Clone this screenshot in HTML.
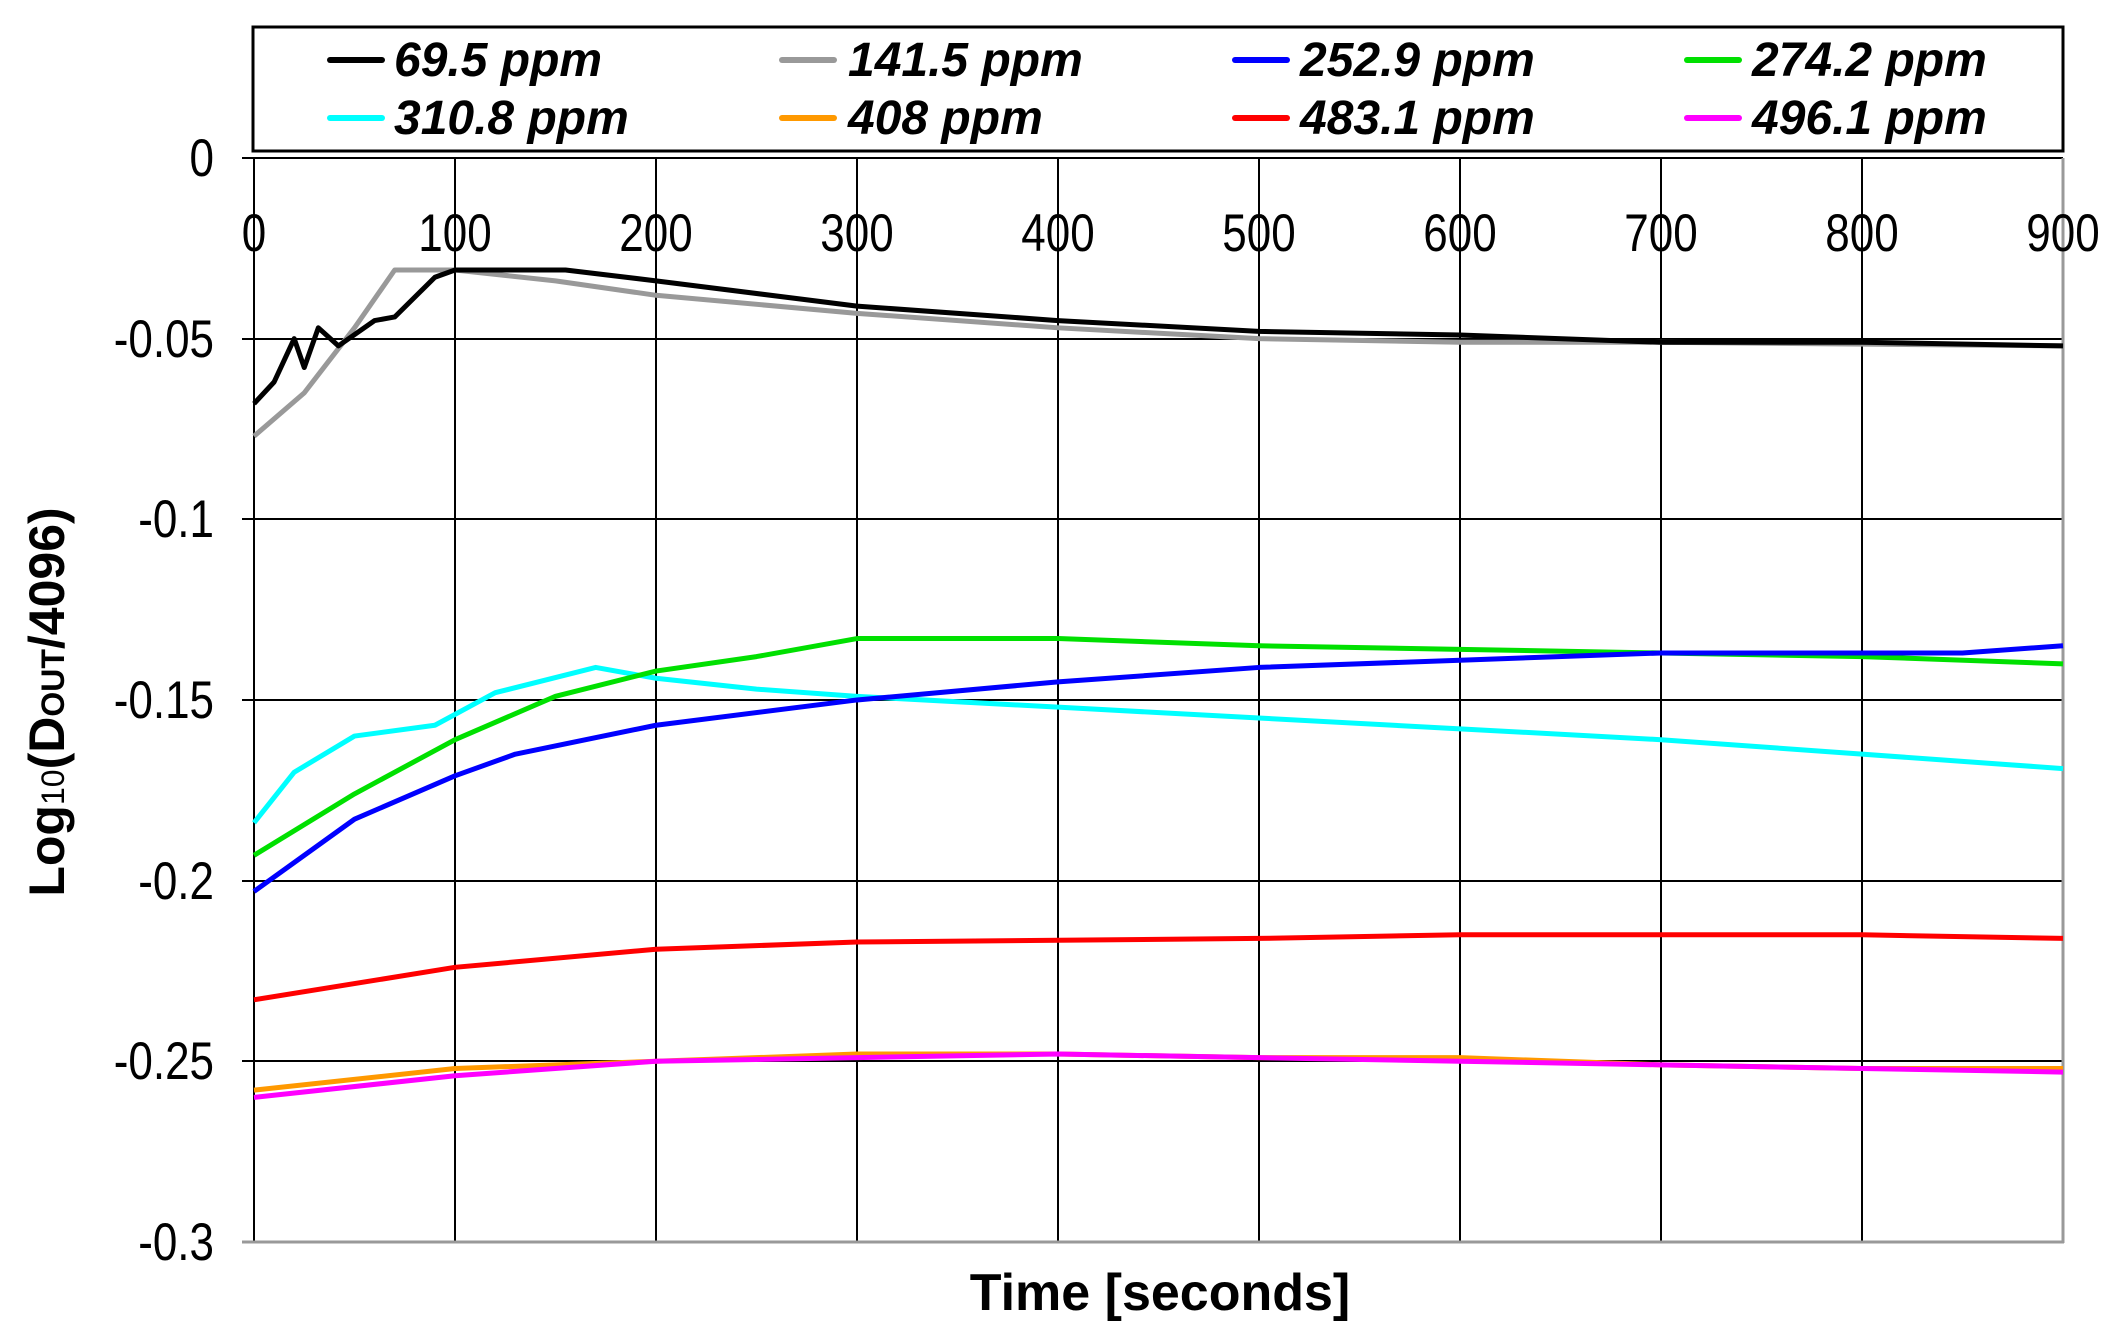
<!DOCTYPE html>
<html><head><meta charset="utf-8"><style>
html,body{margin:0;padding:0;background:#fff;}
svg{display:block;}
text{font-family:"Liberation Sans",Arial,sans-serif;}
.t{font-size:44px;fill:#000;}
.lg{font-size:48px;font-weight:bold;font-style:italic;}
polyline{fill:none;stroke-width:5;vector-effect:non-scaling-stroke;stroke-linejoin:round;}
</style></head><body>
<svg width="2117" height="1340" viewBox="0 0 2117 1340" xmlns="http://www.w3.org/2000/svg">
<rect width="2117" height="1340" fill="#fff"/>
<g stroke="#000" stroke-width="2">
<line x1="254" y1="158" x2="254" y2="1242"/>
<line x1="455" y1="158" x2="455" y2="1242"/>
<line x1="656" y1="158" x2="656" y2="1242"/>
<line x1="857" y1="158" x2="857" y2="1242"/>
<line x1="1058" y1="158" x2="1058" y2="1242"/>
<line x1="1259" y1="158" x2="1259" y2="1242"/>
<line x1="1460" y1="158" x2="1460" y2="1242"/>
<line x1="1661" y1="158" x2="1661" y2="1242"/>
<line x1="1862" y1="158" x2="1862" y2="1242"/>
<line x1="242" y1="158" x2="2063" y2="158"/>
<line x1="242" y1="339" x2="2063" y2="339"/>
<line x1="242" y1="519" x2="2063" y2="519"/>
<line x1="242" y1="700" x2="2063" y2="700"/>
<line x1="242" y1="881" x2="2063" y2="881"/>
<line x1="242" y1="1061" x2="2063" y2="1061"/>
</g>
<g stroke="#999" stroke-width="3">
<line x1="2063" y1="158" x2="2063" y2="1243"/>
<line x1="242" y1="1242" x2="2064" y2="1242"/>
</g>
<g class="t" text-anchor="end">
<text transform="translate(214,176) scale(1,1.2)">0</text>
<text transform="translate(214,357) scale(1,1.2)">-0.05</text>
<text transform="translate(214,537) scale(1,1.2)">-0.1</text>
<text transform="translate(214,718) scale(1,1.2)">-0.15</text>
<text transform="translate(214,899) scale(1,1.2)">-0.2</text>
<text transform="translate(214,1079) scale(1,1.2)">-0.25</text>
<text transform="translate(214,1260) scale(1,1.2)">-0.3</text>
</g>
<g class="t" text-anchor="middle">
<text transform="translate(254,251) scale(1,1.2)">0</text>
<text transform="translate(455,251) scale(1,1.2)">100</text>
<text transform="translate(656,251) scale(1,1.2)">200</text>
<text transform="translate(857,251) scale(1,1.2)">300</text>
<text transform="translate(1058,251) scale(1,1.2)">400</text>
<text transform="translate(1259,251) scale(1,1.2)">500</text>
<text transform="translate(1460,251) scale(1,1.2)">600</text>
<text transform="translate(1661,251) scale(1,1.2)">700</text>
<text transform="translate(1862,251) scale(1,1.2)">800</text>
<text transform="translate(2063,251) scale(1,1.2)">900</text>
</g>
<text x="1160" y="1310" text-anchor="middle" font-size="52" font-weight="bold">Time [seconds]</text>
<text transform="translate(64,702) rotate(-90)" text-anchor="middle" font-size="50" font-weight="bold">Log<tspan font-size="32" font-weight="normal">10</tspan>(D<tspan font-size="32">OUT</tspan>/4096)</text>
<g transform="translate(254,158) scale(2.01,3613)">
<polyline stroke="#999999" points="0,0.077 25,0.065 50,0.047 70,0.031 100,0.031 150,0.034 200,0.038 300,0.043 400,0.047 500,0.05 600,0.051 700,0.051 900,0.052"/>
<polyline stroke="#000" points="0,0.068 10,0.062 20,0.05 25,0.058 32,0.047 42,0.052 60,0.045 70,0.044 90,0.033 100,0.031 155,0.031 200,0.034 300,0.041 400,0.045 500,0.048 600,0.049 700,0.051 800,0.051 900,0.052"/>
<polyline stroke="#00ffff" points="0,0.184 20,0.17 50,0.16 90,0.157 120,0.148 170,0.141 200,0.144 250,0.147 300,0.149 400,0.152 500,0.155 600,0.158 700,0.161 800,0.165 900,0.169"/>
<polyline stroke="#00e000" points="0,0.193 50,0.176 100,0.161 150,0.149 200,0.142 250,0.138 300,0.133 400,0.133 500,0.135 600,0.136 700,0.137 800,0.138 900,0.14"/>
<polyline stroke="#0000ff" points="0,0.203 50,0.183 100,0.171 130,0.165 200,0.157 300,0.15 400,0.145 500,0.141 600,0.139 700,0.137 800,0.137 850,0.137 900,0.135"/>
<polyline stroke="#ff0000" points="0,0.233 100,0.224 200,0.219 300,0.217 500,0.216 600,0.215 800,0.215 900,0.216"/>
<polyline stroke="#ff9900" points="0,0.258 100,0.252 200,0.25 300,0.248 400,0.248 500,0.249 600,0.249 700,0.251 800,0.252 900,0.252"/>
<polyline stroke="#ff00ff" points="0,0.26 100,0.254 200,0.25 300,0.249 400,0.248 500,0.249 600,0.25 700,0.251 800,0.252 900,0.253"/>
</g>
<rect x="253" y="27" width="1810" height="124" fill="#fff" stroke="#000" stroke-width="3"/>
<g stroke-width="6" stroke-linecap="round">
<line x1="330" y1="60" x2="382" y2="60" stroke="#000"/>
<line x1="782" y1="60" x2="834" y2="60" stroke="#999"/>
<line x1="1235" y1="60" x2="1287" y2="60" stroke="#0000ff"/>
<line x1="1687" y1="60" x2="1739" y2="60" stroke="#00e000"/>
<line x1="330" y1="118" x2="382" y2="118" stroke="#00ffff"/>
<line x1="782" y1="118" x2="834" y2="118" stroke="#ff9900"/>
<line x1="1235" y1="118" x2="1287" y2="118" stroke="#ff0000"/>
<line x1="1687" y1="118" x2="1739" y2="118" stroke="#ff00ff"/>
</g>
<g class="lg">
<text x="394" y="76">69.5 ppm</text>
<text x="848" y="76">141.5 ppm</text>
<text x="1300" y="76">252.9 ppm</text>
<text x="1752" y="76">274.2 ppm</text>
<text x="394" y="134">310.8 ppm</text>
<text x="848" y="134">408 ppm</text>
<text x="1300" y="134">483.1 ppm</text>
<text x="1752" y="134">496.1 ppm</text>
</g>
</svg>
</body></html>
